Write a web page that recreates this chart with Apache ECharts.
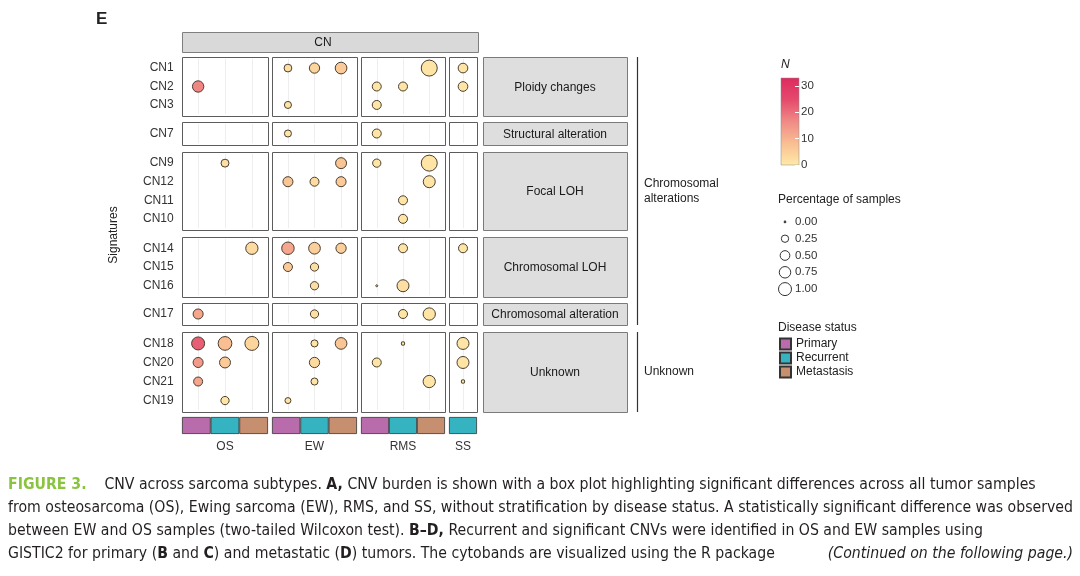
<!DOCTYPE html>
<html>
<head>
<meta charset="utf-8">
<script src="https://cdn.jsdelivr.net/npm/echarts@6/dist/echarts.min.js"></script>
<style>
  html, body { margin: 0; padding: 0; background: #fff; }
  #chart { width: 1080px; height: 576px; }
</style>
</head>
<body>
<div id="chart"></div>
<script>
// columns: cancer types and the disease status levels present in each
const cancerTypes = ['OS', 'EW', 'RMS', 'SS']
const statusOS = ['Primary', 'Recurrent', 'Metastasis']
const statusEW = ['Primary', 'Recurrent', 'Metastasis']
const statusRMS = ['Primary', 'Recurrent', 'Metastasis']
const statusSS = ['Recurrent']
const statusNames = ['Primary', 'Recurrent', 'Metastasis']
const statusColors = ['#B96CAB', '#35B3C1', '#C68F6F']

// rows: signature groups
const groupNames = ['Ploidy changes', 'Structural alteration', 'Focal LOH', 'Chromosomal LOH', 'Chromosomal alteration', 'Unknown']
const sigPloidy = ['CN1', 'CN2', 'CN3']
const sigStructural = ['CN7']
const sigFocalLOH = ['CN9', 'CN12', 'CN11', 'CN10']
const sigChromLOH = ['CN14', 'CN15', 'CN16']
const sigChromAlt = ['CN17']
const sigUnknown = ['CN18', 'CN20', 'CN21', 'CN19']

// [signature, disease status, percentage of samples, N]
const osPoints = [
  ['CN2', 'Primary', 0.45, 17],
  ['CN9', 'Recurrent', 0.18, 2],
  ['CN14', 'Metastasis', 0.54, 3],
  ['CN17', 'Primary', 0.33, 12],
  ['CN18', 'Primary', 0.62, 22],
  ['CN18', 'Recurrent', 0.70, 8],
  ['CN18', 'Metastasis', 0.73, 4],
  ['CN20', 'Primary', 0.33, 14],
  ['CN20', 'Recurrent', 0.41, 6],
  ['CN21', 'Primary', 0.25, 12],
  ['CN19', 'Recurrent', 0.20, 1]
]
const ewPoints = [
  ['CN1', 'Primary', 0.17, 2],
  ['CN1', 'Recurrent', 0.35, 4],
  ['CN1', 'Metastasis', 0.48, 6],
  ['CN3', 'Primary', 0.13, 1],
  ['CN7', 'Primary', 0.13, 1],
  ['CN9', 'Metastasis', 0.41, 7],
  ['CN12', 'Primary', 0.33, 7],
  ['CN12', 'Recurrent', 0.25, 3],
  ['CN12', 'Metastasis', 0.33, 6],
  ['CN14', 'Primary', 0.56, 12],
  ['CN14', 'Recurrent', 0.48, 5],
  ['CN14', 'Metastasis', 0.35, 5],
  ['CN15', 'Primary', 0.25, 6],
  ['CN15', 'Recurrent', 0.20, 2],
  ['CN16', 'Recurrent', 0.20, 2],
  ['CN17', 'Recurrent', 0.20, 2],
  ['CN18', 'Recurrent', 0.13, 1],
  ['CN18', 'Metastasis', 0.48, 7],
  ['CN20', 'Recurrent', 0.35, 3],
  ['CN21', 'Recurrent', 0.13, 1],
  ['CN19', 'Primary', 0.08, 1]
]
const rmsPoints = [
  ['CN1', 'Metastasis', 1.0, 1],
  ['CN2', 'Primary', 0.25, 1],
  ['CN2', 'Recurrent', 0.25, 1],
  ['CN3', 'Primary', 0.25, 1],
  ['CN7', 'Primary', 0.25, 1],
  ['CN9', 'Primary', 0.20, 1],
  ['CN9', 'Metastasis', 1.0, 1],
  ['CN12', 'Metastasis', 0.51, 1],
  ['CN11', 'Recurrent', 0.25, 1],
  ['CN10', 'Recurrent', 0.25, 1],
  ['CN14', 'Recurrent', 0.25, 1],
  ['CN16', 'Primary', 0.0, 0],
  ['CN16', 'Recurrent', 0.51, 2],
  ['CN17', 'Recurrent', 0.25, 1],
  ['CN17', 'Metastasis', 0.54, 1],
  ['CN18', 'Recurrent', 0.01, 0],
  ['CN20', 'Primary', 0.25, 1],
  ['CN21', 'Metastasis', 0.54, 1]
]
const ssPoints = [
  ['CN1', 'Recurrent', 0.30, 1],
  ['CN2', 'Recurrent', 0.30, 1],
  ['CN14', 'Recurrent', 0.25, 1],
  ['CN18', 'Recurrent', 0.51, 1],
  ['CN20', 'Recurrent', 0.51, 1],
  ['CN21', 'Recurrent', 0.01, 0]
]

// legends
const nMax = 33
const nTicks = [0, 10, 20, 30]
const nPalette = ['#FFEAA8', '#F9BE92', '#F08A86', '#E44A6C', '#DE2A60']
const sizeBreaks = [0, 0.25, 0.5, 0.75, 1]

const statusLists = [statusOS, statusEW, statusRMS, statusSS]
const pointLists = [osPoints, ewPoints, rmsPoints, ssPoints]
const sigGroups = [sigPloidy, sigStructural, sigFocalLOH, sigChromLOH, sigChromAlt, sigUnknown]

// layout (pixels)
const colX = [[182, 268], [272, 357], [361, 445], [449, 477]]
const rowY = [[57, 116], [122, 145], [152, 230], [237, 297], [303, 325], [332, 412]]
const stripTop = 417
const stripH = 17
const font = '"Liberation Sans", Arial, sans-serif'
const capFont = '"Liberation Sans Narrow", "DejaVu Sans Condensed", "Liberation Sans", sans-serif'

const chart = echarts.init(document.getElementById('chart'))

const grids = []
const xAxes = []
const yAxes = []
const series = []
const graphics = []
const scatterIdx = []

cancerTypes.forEach((ct, c) => {
  const cats = statusLists[c]
  const pts = pointLists[c]
  const [x0, x1] = colX[c]
  const sx = (x1 - x0) / (cats.length + 0.2)
  sigGroups.forEach((rows, r) => {
    const [y0, y1] = rowY[r]
    const sy = (y1 - y0) / (rows.length + 0.2)
    const gi = grids.length
    grids.push({
      left: x0 + 0.1 * sx, top: y0 + 0.1 * sy,
      width: cats.length * sx, height: rows.length * sy,
      containLabel: false, outerBoundsMode: 'none'
    })
    xAxes.push({ type: 'category', gridIndex: gi, data: cats, show: false })
    yAxes.push({
      type: 'category', gridIndex: gi, data: rows, inverse: true,
      axisLine: { show: false }, axisTick: { show: false }, splitLine: { show: false },
      axisLabel: { show: c === 0, margin: 11, fontSize: 12, color: '#333', fontFamily: font }
    })
    scatterIdx.push(series.length)
    series.push({
      type: 'scatter',
      xAxisIndex: gi,
      yAxisIndex: gi,
      data: pts.filter(p => rows.includes(p[0])).map(p => [p[1], p[0], p[2], p[3]]),
      symbolSize: v => 2 + 14 * Math.sqrt(v[2]),
      itemStyle: { borderColor: '#4a3f30', borderWidth: 1, opacity: 1 },
      z: 3,
      silent: true,
      animation: false,
      markLine: {
        silent: true,
        z: 1,
        symbol: ['none', 'none'],
        label: { show: false },
        lineStyle: { color: '#EEEEEE', width: 1, type: 'solid' },
        data: cats.map(s => ({ xAxis: s })),
        animation: false
      }
    })
    // panel frame
    graphics.push({
      type: 'rect', silent: true, z: 10,
      shape: { x: x0 + 0.5, y: y0 + 0.5, width: x1 - x0, height: y1 - y0 },
      style: { fill: 'none', stroke: '#5c5c5c', lineWidth: 1 }
    })
  })

  // disease status strip under each cancer type
  const gi = grids.length
  grids.push({ left: x0, top: stripTop, width: x1 - x0, height: stripH, containLabel: false, outerBoundsMode: 'none' })
  xAxes.push({
    type: 'category', gridIndex: gi, data: cats,
    axisLine: { show: false }, axisTick: { show: false }, axisLabel: { show: false },
    name: ct, nameLocation: 'middle', nameGap: 7,
    nameTextStyle: { fontSize: 12, color: '#333', fontFamily: font }
  })
  yAxes.push({ type: 'value', gridIndex: gi, min: 0, max: 1, show: false })
  cats.forEach(s => {
    series.push({
      type: 'bar', name: s, xAxisIndex: gi, yAxisIndex: gi,
      data: cats.map(k => (k === s ? 1 : '-')),
      barWidth: '100%', barGap: '-100%',
      itemStyle: { color: statusColors[statusNames.indexOf(s)], borderColor: '#333', borderWidth: 0.8 },
      silent: true, animation: false
    })
  })
})

// colour bar for N
const cbi = grids.length
grids.push({
  left: 781, top: 78, width: 18, height: 87, show: true,
  backgroundColor: new echarts.graphic.LinearGradient(0, 0, 0, 1,
    nPalette.slice().reverse().map((col, i) => ({ offset: i / (nPalette.length - 1), color: col }))),
  borderColor: '#8a8a8a', borderWidth: 0.5, containLabel: false, outerBoundsMode: 'none'
})
xAxes.push({ type: 'category', gridIndex: cbi, data: [''], show: false })
yAxes.push({
  type: 'value', gridIndex: cbi, min: 0, max: nMax, interval: nTicks[1] - nTicks[0], position: 'right',
  axisLine: { show: false }, splitLine: { show: false },
  axisTick: { show: true, inside: true, length: 4, lineStyle: { color: '#fff', width: 1 } },
  axisLabel: { margin: 2, fontSize: 11.5, color: '#333', fontFamily: font, showMaxLabel: false }
})

// size legend
const sgi = grids.length
grids.push({ left: 778, top: 213.5, width: 14, height: 84, containLabel: false, outerBoundsMode: 'none' })
xAxes.push({ type: 'category', gridIndex: sgi, data: ['key'], show: false })
yAxes.push({
  type: 'category', gridIndex: sgi, data: sizeBreaks.map(v => v.toFixed(2)), inverse: true, position: 'right',
  axisLine: { show: false }, axisTick: { show: false }, splitLine: { show: false },
  axisLabel: { margin: 3, fontSize: 11.5, color: '#333', fontFamily: font }
})
series.push({
  type: 'scatter', xAxisIndex: sgi, yAxisIndex: sgi,
  data: sizeBreaks.map(v => ['key', v.toFixed(2), v]),
  symbolSize: v => 1.7 + 11.3 * Math.sqrt(v[2]),
  itemStyle: { color: '#fff', borderColor: '#333', borderWidth: 1, opacity: 1 },
  silent: true, animation: false
})

// panel letter, strips, labels
graphics.push({ type: 'text', x: 96, y: 19, style: { text: 'E', fontSize: 17, fontWeight: 'bold', fontFamily: font, fill: '#222', verticalAlign: 'middle' } })
graphics.push({
  type: 'rect', silent: true, shape: { x: 182.5, y: 32.5, width: 296, height: 20 },
  style: { fill: '#D9D9D9', stroke: '#7f7f7f', lineWidth: 1 }
})
graphics.push({ type: 'text', x: 323, y: 43, style: { text: 'CN', fontSize: 12, fontFamily: font, fill: '#1a1a1a', align: 'center', verticalAlign: 'middle' } })
graphics.push({ type: 'text', x: 114, y: 235, rotation: Math.PI / 2, style: { text: 'Signatures', fontSize: 12, fontFamily: font, fill: '#222', align: 'center', verticalAlign: 'middle' } })

groupNames.forEach((g, r) => {
  const [y0, y1] = rowY[r]
  graphics.push({
    type: 'rect', silent: true, shape: { x: 483.5, y: y0 + 0.5, width: 144, height: y1 - y0 },
    style: { fill: '#DEDEDE', stroke: '#7a7a7a', lineWidth: 1 }
  })
  graphics.push({ type: 'text', x: 555, y: (y0 + y1) / 2 + 1, style: { text: g, fontSize: 12, fontFamily: font, fill: '#1a1a1a', align: 'center', verticalAlign: 'middle' } })
})

// class brackets
graphics.push({ type: 'line', silent: true, shape: { x1: 637.5, y1: rowY[0][0], x2: 637.5, y2: rowY[4][1] }, style: { stroke: '#333', lineWidth: 1.2 } })
graphics.push({ type: 'line', silent: true, shape: { x1: 637.5, y1: rowY[5][0], x2: 637.5, y2: rowY[5][1] }, style: { stroke: '#333', lineWidth: 1.2 } })
graphics.push({ type: 'text', x: 644, y: 191, style: { text: 'Chromosomal\nalterations', fontSize: 12, lineHeight: 15, fontFamily: font, fill: '#222', verticalAlign: 'middle' } })
graphics.push({ type: 'text', x: 644, y: 372, style: { text: 'Unknown', fontSize: 12, fontFamily: font, fill: '#222', verticalAlign: 'middle' } })

// legend titles
graphics.push({ type: 'text', x: 781, y: 65, style: { text: 'N', fontSize: 12, fontStyle: 'italic', fontFamily: font, fill: '#222', verticalAlign: 'middle' } })
graphics.push({ type: 'text', x: 778, y: 200, style: { text: 'Percentage of samples', fontSize: 12, fontFamily: font, fill: '#222', verticalAlign: 'middle' } })
graphics.push({ type: 'text', x: 778, y: 328, style: { text: 'Disease status', fontSize: 12, fontFamily: font, fill: '#222', verticalAlign: 'middle' } })

// figure caption, scaled so the longest line fits the page width
const captionLines = [
  [['FIGURE 3.', 'g'], ['    CNV across sarcoma subtypes. ', 'n'], ['A,', 'b'], [' CNV burden is shown with a box plot highlighting significant differences across all tumor samples', 'n']],
  [['from osteosarcoma (OS), Ewing sarcoma (EW), RMS, and SS, without stratification by disease status. A statistically significant difference was observed', 'n']],
  [['between EW and OS samples (two-tailed Wilcoxon test). ', 'n'], ['B\u2013D,', 'b'], [' Recurrent and significant CNVs were identified in OS and EW samples using', 'n']],
  [['GISTIC2 for primary (', 'n'], ['B', 'b'], [' and ', 'n'], ['C', 'b'], [') and metastatic (', 'n'], ['D', 'b'], [') tumors. The cytobands are visualized using the R package', 'n']]
]
const continued = [['(Continued on the following page.)', 'i']]
const capEnds = [1053, 1073, 991, 797]
const capSize = 16
const capStyles = {
  n: { fontSize: capSize, fontFamily: capFont, fill: '#231F20' },
  b: { fontSize: capSize, fontFamily: capFont, fontWeight: 'bold', fill: '#231F20' },
  g: { fontSize: capSize, fontFamily: capFont, fontWeight: 'bold', fill: '#8AC43F' },
  i: { fontSize: capSize, fontFamily: capFont, fontStyle: 'italic', fill: '#231F20' }
}
const ctx = document.createElement('canvas').getContext('2d')
const measure = segs => segs.reduce((w, [t, k]) => {
  const s = capStyles[k]
  ctx.font = `${s.fontStyle || 'normal'} ${s.fontWeight || 'normal'} ${capSize}px ${capFont}`
  return w + ctx.measureText(t).width
}, 0)
const richText = segs => segs.map(([t, k]) => `{${k}|${t}}`).join('')
const capScale = Math.min(...captionLines.map((segs, i) => (capEnds[i] - 8) / measure(segs)))
const capY = [485, 508, 531, 554]
captionLines.forEach((segs, i) => {
  graphics.push({
    type: 'text', x: 8, y: capY[i], scaleX: capScale,
    style: { text: richText(segs), rich: capStyles, fontSize: capSize, fontFamily: capFont, fill: '#231F20', verticalAlign: 'middle' }
  })
})
graphics.push({
  type: 'text', x: 1073 - capScale * measure(continued), y: capY[3], scaleX: capScale,
  style: { text: richText(continued), rich: capStyles, fontSize: capSize, fontFamily: capFont, fill: '#231F20', verticalAlign: 'middle' }
})

const option = {
  animation: false,
  backgroundColor: '#fff',
  textStyle: { fontFamily: font },
  grid: grids,
  xAxis: xAxes,
  yAxis: yAxes,
  visualMap: {
    type: 'continuous', show: false, min: 0, max: nMax, dimension: 3,
    seriesIndex: scatterIdx,
    inRange: { color: nPalette }
  },
  legend: {
    data: statusNames,
    orient: 'vertical',
    left: 779, top: 337,
    padding: 0,
    itemWidth: 11, itemHeight: 11, itemGap: 0,
    icon: 'rect',
    selectedMode: false,
    textStyle: { fontSize: 12, color: '#222', fontFamily: font, lineHeight: 14 }
  },
  graphic: graphics,
  series: series
}
chart.setOption(option)
</script>
</body>
</html>
